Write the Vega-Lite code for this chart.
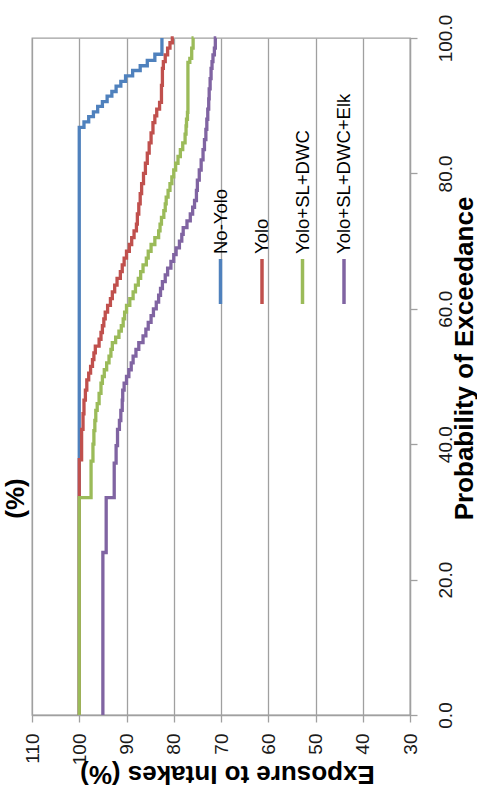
{
  "$schema": "https://vega.github.io/schema/vega-lite/v6.json",
  "width": 378,
  "height": 677,
  "autosize": {"type": "none"},
  "padding": {"left": 32, "top": 38, "right": 67, "bottom": 89},
  "background": "white",
  "title": {
    "text": "(%)",
    "orient": "left",
    "anchor": "middle",
    "frame": "group",
    "offset": -6,
    "dx": -122,
    "font": "Liberation Sans",
    "fontSize": 26,
    "fontWeight": "bold",
    "color": "#000000"
  },
  "data": {
    "values": [
      {"scenario": "No-Yolo", "probability": 0, "exposure": 100},
      {"scenario": "No-Yolo", "probability": 86.8, "exposure": 99.0},
      {"scenario": "No-Yolo", "probability": 87.6, "exposure": 98.0},
      {"scenario": "No-Yolo", "probability": 88.4, "exposure": 97.0},
      {"scenario": "No-Yolo", "probability": 89.1, "exposure": 96.1},
      {"scenario": "No-Yolo", "probability": 89.9, "exposure": 95.1},
      {"scenario": "No-Yolo", "probability": 90.6, "exposure": 94.1},
      {"scenario": "No-Yolo", "probability": 91.4, "exposure": 93.1},
      {"scenario": "No-Yolo", "probability": 92.1, "exposure": 92.2},
      {"scenario": "No-Yolo", "probability": 92.9, "exposure": 91.2},
      {"scenario": "No-Yolo", "probability": 93.6, "exposure": 90.2},
      {"scenario": "No-Yolo", "probability": 94.4, "exposure": 88.7},
      {"scenario": "No-Yolo", "probability": 95.2, "exposure": 87.1},
      {"scenario": "No-Yolo", "probability": 95.9, "exposure": 85.6},
      {"scenario": "No-Yolo", "probability": 96.7, "exposure": 84.0},
      {"scenario": "No-Yolo", "probability": 97.6, "exposure": 82.5},
      {"scenario": "No-Yolo", "probability": 100, "exposure": 82.5},

      {"scenario": "Yolo", "probability": 0, "exposure": 100},
      {"scenario": "Yolo", "probability": 37.7, "exposure": 99.5},
      {"scenario": "Yolo", "probability": 42.2, "exposure": 99.2},
      {"scenario": "Yolo", "probability": 44.5, "exposure": 99.0},
      {"scenario": "Yolo", "probability": 46.5, "exposure": 98.7},
      {"scenario": "Yolo", "probability": 48.0, "exposure": 98.4},
      {"scenario": "Yolo", "probability": 49.5, "exposure": 98.0},
      {"scenario": "Yolo", "probability": 50.5, "exposure": 97.6},
      {"scenario": "Yolo", "probability": 51.5, "exposure": 97.2},
      {"scenario": "Yolo", "probability": 52.5, "exposure": 96.9},
      {"scenario": "Yolo", "probability": 53.5, "exposure": 96.6},
      {"scenario": "Yolo", "probability": 54.5, "exposure": 95.8},
      {"scenario": "Yolo", "probability": 55.5, "exposure": 95.4},
      {"scenario": "Yolo", "probability": 56.5, "exposure": 95.1},
      {"scenario": "Yolo", "probability": 57.5, "exposure": 94.8},
      {"scenario": "Yolo", "probability": 58.5, "exposure": 94.5},
      {"scenario": "Yolo", "probability": 59.5, "exposure": 94.0},
      {"scenario": "Yolo", "probability": 60.5, "exposure": 93.4},
      {"scenario": "Yolo", "probability": 61.5, "exposure": 93.0},
      {"scenario": "Yolo", "probability": 62.5, "exposure": 92.5},
      {"scenario": "Yolo", "probability": 63.5, "exposure": 92.0},
      {"scenario": "Yolo", "probability": 64.5, "exposure": 91.3},
      {"scenario": "Yolo", "probability": 65.5, "exposure": 90.9},
      {"scenario": "Yolo", "probability": 66.5, "exposure": 90.5},
      {"scenario": "Yolo", "probability": 67.5, "exposure": 90.0},
      {"scenario": "Yolo", "probability": 68.5, "exposure": 89.4},
      {"scenario": "Yolo", "probability": 69.5, "exposure": 88.9},
      {"scenario": "Yolo", "probability": 70.5, "exposure": 88.4},
      {"scenario": "Yolo", "probability": 71.5, "exposure": 87.9},
      {"scenario": "Yolo", "probability": 72.5, "exposure": 87.7},
      {"scenario": "Yolo", "probability": 74.0, "exposure": 87.4},
      {"scenario": "Yolo", "probability": 75.5, "exposure": 87.1},
      {"scenario": "Yolo", "probability": 77.0, "exposure": 86.8},
      {"scenario": "Yolo", "probability": 78.5, "exposure": 86.4},
      {"scenario": "Yolo", "probability": 80.0, "exposure": 86.0},
      {"scenario": "Yolo", "probability": 81.5, "exposure": 85.6},
      {"scenario": "Yolo", "probability": 83.0, "exposure": 85.2},
      {"scenario": "Yolo", "probability": 84.5, "exposure": 84.8},
      {"scenario": "Yolo", "probability": 86.0, "exposure": 84.4},
      {"scenario": "Yolo", "probability": 87.5, "exposure": 84.0},
      {"scenario": "Yolo", "probability": 88.5, "exposure": 83.6},
      {"scenario": "Yolo", "probability": 89.5, "exposure": 83.0},
      {"scenario": "Yolo", "probability": 90.5, "exposure": 82.6},
      {"scenario": "Yolo", "probability": 93.0, "exposure": 82.4},
      {"scenario": "Yolo", "probability": 95.5, "exposure": 82.2},
      {"scenario": "Yolo", "probability": 96.5, "exposure": 81.8},
      {"scenario": "Yolo", "probability": 97.5, "exposure": 81.3},
      {"scenario": "Yolo", "probability": 98.5, "exposure": 80.8},
      {"scenario": "Yolo", "probability": 99.3, "exposure": 80.3},
      {"scenario": "Yolo", "probability": 100, "exposure": 80.0},

      {"scenario": "Yolo+SL+DWC", "probability": 0, "exposure": 100},
      {"scenario": "Yolo+SL+DWC", "probability": 32.1, "exposure": 97.5},
      {"scenario": "Yolo+SL+DWC", "probability": 37.5, "exposure": 97.1},
      {"scenario": "Yolo+SL+DWC", "probability": 40.0, "exposure": 96.9},
      {"scenario": "Yolo+SL+DWC", "probability": 42.0, "exposure": 96.7},
      {"scenario": "Yolo+SL+DWC", "probability": 43.5, "exposure": 96.5},
      {"scenario": "Yolo+SL+DWC", "probability": 45.0, "exposure": 96.2},
      {"scenario": "Yolo+SL+DWC", "probability": 46.0, "exposure": 95.8},
      {"scenario": "Yolo+SL+DWC", "probability": 47.5, "exposure": 95.4},
      {"scenario": "Yolo+SL+DWC", "probability": 49.0, "exposure": 95.1},
      {"scenario": "Yolo+SL+DWC", "probability": 50.0, "exposure": 94.7},
      {"scenario": "Yolo+SL+DWC", "probability": 51.0, "exposure": 94.2},
      {"scenario": "Yolo+SL+DWC", "probability": 52.0, "exposure": 93.7},
      {"scenario": "Yolo+SL+DWC", "probability": 53.0, "exposure": 93.3},
      {"scenario": "Yolo+SL+DWC", "probability": 54.0, "exposure": 93.0},
      {"scenario": "Yolo+SL+DWC", "probability": 55.0, "exposure": 92.3},
      {"scenario": "Yolo+SL+DWC", "probability": 55.8, "exposure": 91.6},
      {"scenario": "Yolo+SL+DWC", "probability": 56.7, "exposure": 91.1},
      {"scenario": "Yolo+SL+DWC", "probability": 57.5, "exposure": 90.7},
      {"scenario": "Yolo+SL+DWC", "probability": 58.5, "exposure": 90.4},
      {"scenario": "Yolo+SL+DWC", "probability": 59.5, "exposure": 90.0},
      {"scenario": "Yolo+SL+DWC", "probability": 60.5, "exposure": 89.3},
      {"scenario": "Yolo+SL+DWC", "probability": 61.5, "exposure": 88.6},
      {"scenario": "Yolo+SL+DWC", "probability": 62.5, "exposure": 88.1},
      {"scenario": "Yolo+SL+DWC", "probability": 63.5, "exposure": 87.5},
      {"scenario": "Yolo+SL+DWC", "probability": 64.5, "exposure": 87.0},
      {"scenario": "Yolo+SL+DWC", "probability": 65.5, "exposure": 86.5},
      {"scenario": "Yolo+SL+DWC", "probability": 66.5, "exposure": 85.8},
      {"scenario": "Yolo+SL+DWC", "probability": 67.5, "exposure": 85.4},
      {"scenario": "Yolo+SL+DWC", "probability": 68.5, "exposure": 84.8},
      {"scenario": "Yolo+SL+DWC", "probability": 69.5, "exposure": 84.0},
      {"scenario": "Yolo+SL+DWC", "probability": 70.5, "exposure": 83.2},
      {"scenario": "Yolo+SL+DWC", "probability": 71.5, "exposure": 82.9},
      {"scenario": "Yolo+SL+DWC", "probability": 72.5, "exposure": 82.6},
      {"scenario": "Yolo+SL+DWC", "probability": 73.5, "exposure": 82.1},
      {"scenario": "Yolo+SL+DWC", "probability": 74.5, "exposure": 81.8},
      {"scenario": "Yolo+SL+DWC", "probability": 75.5, "exposure": 81.6},
      {"scenario": "Yolo+SL+DWC", "probability": 76.5, "exposure": 81.2},
      {"scenario": "Yolo+SL+DWC", "probability": 77.5, "exposure": 80.8},
      {"scenario": "Yolo+SL+DWC", "probability": 78.5, "exposure": 80.4},
      {"scenario": "Yolo+SL+DWC", "probability": 79.5, "exposure": 80.0},
      {"scenario": "Yolo+SL+DWC", "probability": 80.5, "exposure": 79.6},
      {"scenario": "Yolo+SL+DWC", "probability": 81.5, "exposure": 79.1},
      {"scenario": "Yolo+SL+DWC", "probability": 82.5, "exposure": 78.6},
      {"scenario": "Yolo+SL+DWC", "probability": 83.5, "exposure": 78.1},
      {"scenario": "Yolo+SL+DWC", "probability": 84.5, "exposure": 77.6},
      {"scenario": "Yolo+SL+DWC", "probability": 85.8, "exposure": 77.4},
      {"scenario": "Yolo+SL+DWC", "probability": 87.0, "exposure": 77.3},
      {"scenario": "Yolo+SL+DWC", "probability": 88.0, "exposure": 77.1},
      {"scenario": "Yolo+SL+DWC", "probability": 89.0, "exposure": 77.0},
      {"scenario": "Yolo+SL+DWC", "probability": 96.4, "exposure": 76.6},
      {"scenario": "Yolo+SL+DWC", "probability": 97.0, "exposure": 76.2},
      {"scenario": "Yolo+SL+DWC", "probability": 98.5, "exposure": 75.9},
      {"scenario": "Yolo+SL+DWC", "probability": 100, "exposure": 75.8},

      {"scenario": "Yolo+SL+DWC+Elk", "probability": 0, "exposure": 95.0},
      {"scenario": "Yolo+SL+DWC+Elk", "probability": 24.0, "exposure": 94.3},
      {"scenario": "Yolo+SL+DWC+Elk", "probability": 32.1, "exposure": 92.6},
      {"scenario": "Yolo+SL+DWC+Elk", "probability": 37.2, "exposure": 92.2},
      {"scenario": "Yolo+SL+DWC+Elk", "probability": 39.8, "exposure": 91.9},
      {"scenario": "Yolo+SL+DWC+Elk", "probability": 42.2, "exposure": 91.5},
      {"scenario": "Yolo+SL+DWC+Elk", "probability": 43.5, "exposure": 91.2},
      {"scenario": "Yolo+SL+DWC+Elk", "probability": 45.0, "exposure": 90.9},
      {"scenario": "Yolo+SL+DWC+Elk", "probability": 46.5, "exposure": 90.8},
      {"scenario": "Yolo+SL+DWC+Elk", "probability": 48.0, "exposure": 90.5},
      {"scenario": "Yolo+SL+DWC+Elk", "probability": 49.0, "exposure": 90.0},
      {"scenario": "Yolo+SL+DWC+Elk", "probability": 50.0, "exposure": 89.5},
      {"scenario": "Yolo+SL+DWC+Elk", "probability": 51.0, "exposure": 89.0},
      {"scenario": "Yolo+SL+DWC+Elk", "probability": 52.0, "exposure": 88.6},
      {"scenario": "Yolo+SL+DWC+Elk", "probability": 53.0, "exposure": 88.0},
      {"scenario": "Yolo+SL+DWC+Elk", "probability": 54.0, "exposure": 87.4},
      {"scenario": "Yolo+SL+DWC+Elk", "probability": 55.0, "exposure": 86.5},
      {"scenario": "Yolo+SL+DWC+Elk", "probability": 56.0, "exposure": 85.9},
      {"scenario": "Yolo+SL+DWC+Elk", "probability": 57.0, "exposure": 85.4},
      {"scenario": "Yolo+SL+DWC+Elk", "probability": 58.0, "exposure": 84.8},
      {"scenario": "Yolo+SL+DWC+Elk", "probability": 59.0, "exposure": 84.3},
      {"scenario": "Yolo+SL+DWC+Elk", "probability": 60.0, "exposure": 83.7},
      {"scenario": "Yolo+SL+DWC+Elk", "probability": 61.0, "exposure": 83.2},
      {"scenario": "Yolo+SL+DWC+Elk", "probability": 62.0, "exposure": 82.8},
      {"scenario": "Yolo+SL+DWC+Elk", "probability": 63.0, "exposure": 82.4},
      {"scenario": "Yolo+SL+DWC+Elk", "probability": 64.0, "exposure": 81.8},
      {"scenario": "Yolo+SL+DWC+Elk", "probability": 65.0, "exposure": 81.3},
      {"scenario": "Yolo+SL+DWC+Elk", "probability": 66.0, "exposure": 80.6},
      {"scenario": "Yolo+SL+DWC+Elk", "probability": 67.0, "exposure": 80.0},
      {"scenario": "Yolo+SL+DWC+Elk", "probability": 68.0, "exposure": 79.5},
      {"scenario": "Yolo+SL+DWC+Elk", "probability": 69.0, "exposure": 78.8},
      {"scenario": "Yolo+SL+DWC+Elk", "probability": 70.0, "exposure": 78.3},
      {"scenario": "Yolo+SL+DWC+Elk", "probability": 71.0, "exposure": 78.0},
      {"scenario": "Yolo+SL+DWC+Elk", "probability": 72.0, "exposure": 77.2},
      {"scenario": "Yolo+SL+DWC+Elk", "probability": 73.0, "exposure": 76.5},
      {"scenario": "Yolo+SL+DWC+Elk", "probability": 74.0, "exposure": 76.0},
      {"scenario": "Yolo+SL+DWC+Elk", "probability": 75.0, "exposure": 75.6},
      {"scenario": "Yolo+SL+DWC+Elk", "probability": 76.0, "exposure": 75.2},
      {"scenario": "Yolo+SL+DWC+Elk", "probability": 77.5, "exposure": 75.0},
      {"scenario": "Yolo+SL+DWC+Elk", "probability": 79.0, "exposure": 74.6},
      {"scenario": "Yolo+SL+DWC+Elk", "probability": 80.5, "exposure": 74.2},
      {"scenario": "Yolo+SL+DWC+Elk", "probability": 82.0, "exposure": 73.8},
      {"scenario": "Yolo+SL+DWC+Elk", "probability": 83.5, "exposure": 73.5},
      {"scenario": "Yolo+SL+DWC+Elk", "probability": 85.0, "exposure": 73.2},
      {"scenario": "Yolo+SL+DWC+Elk", "probability": 86.5, "exposure": 73.0},
      {"scenario": "Yolo+SL+DWC+Elk", "probability": 88.0, "exposure": 72.8},
      {"scenario": "Yolo+SL+DWC+Elk", "probability": 89.5, "exposure": 72.6},
      {"scenario": "Yolo+SL+DWC+Elk", "probability": 91.0, "exposure": 72.5},
      {"scenario": "Yolo+SL+DWC+Elk", "probability": 92.5, "exposure": 72.3},
      {"scenario": "Yolo+SL+DWC+Elk", "probability": 94.0, "exposure": 72.1},
      {"scenario": "Yolo+SL+DWC+Elk", "probability": 95.5, "exposure": 71.9},
      {"scenario": "Yolo+SL+DWC+Elk", "probability": 96.5, "exposure": 71.7},
      {"scenario": "Yolo+SL+DWC+Elk", "probability": 97.5, "exposure": 71.4},
      {"scenario": "Yolo+SL+DWC+Elk", "probability": 98.5, "exposure": 71.2},
      {"scenario": "Yolo+SL+DWC+Elk", "probability": 100, "exposure": 71.0}
    ]
  },
  "mark": {"type": "line", "interpolate": "step-before", "strokeWidth": 3.3},
  "encoding": {
    "x": {
      "field": "exposure",
      "type": "quantitative",
      "scale": {"domain": [30, 110], "reverse": true, "nice": false, "zero": false},
      "axis": {
        "orient": "bottom",
        "values": [30, 40, 50, 60, 70, 80, 90, 100, 110],
        "grid": true,
        "gridColor": "#a0a0a0",
        "gridWidth": 1.3,
        "domainColor": "#a0a0a0",
        "domainWidth": 1.3,
        "tickColor": "#a0a0a0",
        "tickWidth": 1.3,
        "tickSize": 7,
        "labelAngle": -90,
        "labelAlign": "right",
        "labelBaseline": "middle",
        "labelPadding": 11,
        "labelFont": "Liberation Sans",
        "labelFontSize": 19,
        "labelColor": "#1a1a1a",
        "title": "Exposure to Intakes (%)",
        "titleAngle": 180,
        "titleAlign": "center",
        "titleBaseline": "alphabetic",
        "titleX": 195,
        "titleY": 50,
        "titleFont": "Liberation Sans",
        "titleFontSize": 26,
        "titleFontWeight": "bold",
        "titleColor": "#000000"
      }
    },
    "y": {
      "field": "probability",
      "type": "quantitative",
      "scale": {"domain": [0, 100], "nice": false},
      "axis": {
        "orient": "right",
        "values": [0, 20, 40, 60, 80, 100],
        "format": ".1f",
        "grid": false,
        "domainColor": "#a0a0a0",
        "domainWidth": 1.3,
        "tickColor": "#a0a0a0",
        "tickWidth": 1.3,
        "tickSize": 7,
        "labelAngle": -90,
        "labelAlign": "center",
        "labelBaseline": "top",
        "labelPadding": 19,
        "labelFont": "Liberation Sans",
        "labelFontSize": 19,
        "labelColor": "#1a1a1a",
        "title": "Probability of Exceedance",
        "titleAngle": 270,
        "titleAlign": "center",
        "titleBaseline": "top",
        "titleX": 41,
        "titleY": 320,
        "titleFont": "Liberation Sans",
        "titleFontSize": 26,
        "titleFontWeight": "bold",
        "titleColor": "#000000"
      }
    },
    "order": {"field": "probability", "type": "quantitative"},
    "color": {
      "field": "scenario",
      "type": "nominal",
      "scale": {
        "domain": ["No-Yolo", "Yolo", "Yolo+SL+DWC", "Yolo+SL+DWC+Elk"],
        "range": ["#4f81bd", "#c0504d", "#9bbb59", "#8064a2"]
      },
      "legend": {
        "title": null,
        "orient": "none",
        "legendX": 164,
        "legendY": 219,
        "direction": "horizontal",
        "columns": 4,
        "padding": 0,
        "columnPadding": 6.5,
        "symbolType": "M0,-1L0,1",
        "symbolSize": 2025,
        "symbolStrokeWidth": 3.5,
        "labelOffset": 0,
        "labelFont": "Liberation Sans",
        "labelFontSize": 18.5,
        "labelColor": "#000000",
        "labelLimit": 300,
        "encoding": {
          "labels": {
            "angle": {"value": -90},
            "align": {"value": "left"},
            "baseline": {"value": "middle"},
            "x": {"value": 24.5},
            "y": {"value": -3}
          }
        }
      }
    }
  },
  "config": {
    "view": {"stroke": "#a0a0a0", "strokeWidth": 1.3}
  }
}
